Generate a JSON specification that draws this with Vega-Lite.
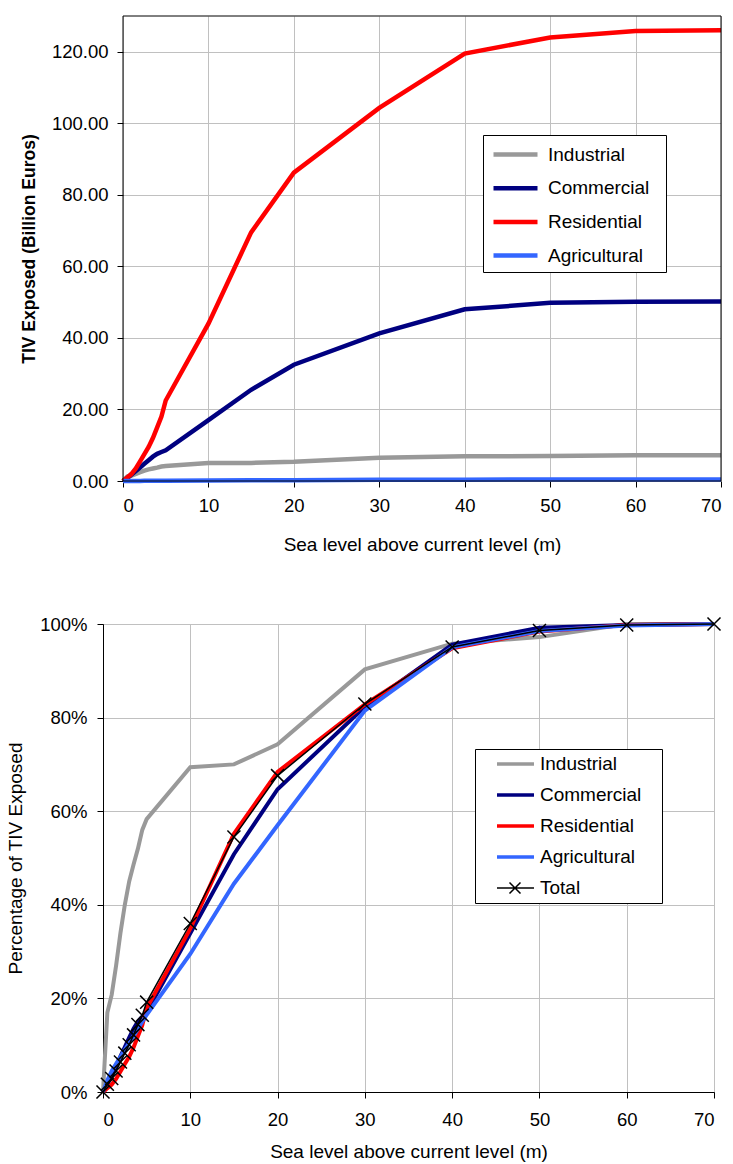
{
  "$schema": "https://vega.github.io/schema/vega-lite/v6.json",
  "padding": {"left": 6, "top": 15, "right": 5, "bottom": 5},
  "spacing": 58,
  "resolve": {"scale": {"color": "independent"}, "legend": {"color": "independent"}},
  "config": {
    "font": "Liberation Sans",
    "view": {"stroke": "#000", "strokeWidth": 1},
    "axis": {
      "labelFont": "Liberation Sans", "labelFontSize": 18.5, "labelColor": "#000",
      "titleFont": "Liberation Sans", "titleFontSize": 19, "titleColor": "#000", "titleFontWeight": "normal",
      "tickColor": "#000", "tickSize": 6, "domainColor": "#000", "gridColor": "#C0C0C0", "gridWidth": 1
    },
    "legend": {
      "labelFont": "Liberation Sans", "labelFontSize": 19, "labelColor": "#000",
      "strokeColor": "#000", "fillColor": "#fff", "orient": "none",
      "titleOrient": "right", "titleFontSize": 1, "titleOpacity": 0
    }
  },
  "datasets": {
    "tiv": [
      {"level": 0, "sector": "Industrial", "tiv": 0},
      {"level": 0.5, "sector": "Industrial", "tiv": 1.22},
      {"level": 1, "sector": "Industrial", "tiv": 1.5},
      {"level": 1.5, "sector": "Industrial", "tiv": 1.95},
      {"level": 2, "sector": "Industrial", "tiv": 2.45},
      {"level": 2.5, "sector": "Industrial", "tiv": 2.9},
      {"level": 3, "sector": "Industrial", "tiv": 3.25},
      {"level": 3.5, "sector": "Industrial", "tiv": 3.5},
      {"level": 4, "sector": "Industrial", "tiv": 3.75},
      {"level": 4.5, "sector": "Industrial", "tiv": 4.05},
      {"level": 5, "sector": "Industrial", "tiv": 4.2},
      {"level": 10, "sector": "Industrial", "tiv": 5.0},
      {"level": 15, "sector": "Industrial", "tiv": 5.05},
      {"level": 20, "sector": "Industrial", "tiv": 5.35},
      {"level": 30, "sector": "Industrial", "tiv": 6.5},
      {"level": 40, "sector": "Industrial", "tiv": 6.9},
      {"level": 50, "sector": "Industrial", "tiv": 7.0},
      {"level": 60, "sector": "Industrial", "tiv": 7.2},
      {"level": 70, "sector": "Industrial", "tiv": 7.2},
      {"level": 0, "sector": "Commercial", "tiv": 0},
      {"level": 0.5, "sector": "Commercial", "tiv": 0.8},
      {"level": 1, "sector": "Commercial", "tiv": 1.8},
      {"level": 1.5, "sector": "Commercial", "tiv": 2.8},
      {"level": 2, "sector": "Commercial", "tiv": 3.8},
      {"level": 2.5, "sector": "Commercial", "tiv": 4.8},
      {"level": 3, "sector": "Commercial", "tiv": 5.8},
      {"level": 3.5, "sector": "Commercial", "tiv": 6.8},
      {"level": 4, "sector": "Commercial", "tiv": 7.6},
      {"level": 4.5, "sector": "Commercial", "tiv": 8.1},
      {"level": 5, "sector": "Commercial", "tiv": 8.6},
      {"level": 10, "sector": "Commercial", "tiv": 17.0},
      {"level": 15, "sector": "Commercial", "tiv": 25.5},
      {"level": 20, "sector": "Commercial", "tiv": 32.5},
      {"level": 30, "sector": "Commercial", "tiv": 41.3},
      {"level": 40, "sector": "Commercial", "tiv": 48.0},
      {"level": 50, "sector": "Commercial", "tiv": 49.8},
      {"level": 60, "sector": "Commercial", "tiv": 50.1},
      {"level": 70, "sector": "Commercial", "tiv": 50.2},
      {"level": 0, "sector": "Residential", "tiv": 0},
      {"level": 0.5, "sector": "Residential", "tiv": 1.0},
      {"level": 1, "sector": "Residential", "tiv": 2.0},
      {"level": 1.5, "sector": "Residential", "tiv": 3.5},
      {"level": 2, "sector": "Residential", "tiv": 5.5},
      {"level": 2.5, "sector": "Residential", "tiv": 7.5},
      {"level": 3, "sector": "Residential", "tiv": 9.5},
      {"level": 3.5, "sector": "Residential", "tiv": 12.0},
      {"level": 4, "sector": "Residential", "tiv": 15.0},
      {"level": 4.5, "sector": "Residential", "tiv": 18.0},
      {"level": 5, "sector": "Residential", "tiv": 22.5},
      {"level": 10, "sector": "Residential", "tiv": 44.0},
      {"level": 15, "sector": "Residential", "tiv": 69.5},
      {"level": 20, "sector": "Residential", "tiv": 86.2},
      {"level": 30, "sector": "Residential", "tiv": 104.3},
      {"level": 40, "sector": "Residential", "tiv": 119.5},
      {"level": 50, "sector": "Residential", "tiv": 124.0},
      {"level": 60, "sector": "Residential", "tiv": 125.8},
      {"level": 70, "sector": "Residential", "tiv": 126.0},
      {"level": 0, "sector": "Agricultural", "tiv": 0},
      {"level": 0.5, "sector": "Agricultural", "tiv": 0.01},
      {"level": 1, "sector": "Agricultural", "tiv": 0.018},
      {"level": 1.5, "sector": "Agricultural", "tiv": 0.024},
      {"level": 2, "sector": "Agricultural", "tiv": 0.03},
      {"level": 2.5, "sector": "Agricultural", "tiv": 0.036},
      {"level": 3, "sector": "Agricultural", "tiv": 0.042},
      {"level": 3.5, "sector": "Agricultural", "tiv": 0.048},
      {"level": 4, "sector": "Agricultural", "tiv": 0.054},
      {"level": 4.5, "sector": "Agricultural", "tiv": 0.06},
      {"level": 5, "sector": "Agricultural", "tiv": 0.066},
      {"level": 10, "sector": "Agricultural", "tiv": 0.118},
      {"level": 15, "sector": "Agricultural", "tiv": 0.178},
      {"level": 20, "sector": "Agricultural", "tiv": 0.228},
      {"level": 30, "sector": "Agricultural", "tiv": 0.326},
      {"level": 40, "sector": "Agricultural", "tiv": 0.38},
      {"level": 50, "sector": "Agricultural", "tiv": 0.394},
      {"level": 60, "sector": "Agricultural", "tiv": 0.399},
      {"level": 70, "sector": "Agricultural", "tiv": 0.4}
    ],
    "share": [
      {"level": 0, "sector": "Industrial", "share": 0},
      {"level": 0.5, "sector": "Industrial", "share": 0.17},
      {"level": 1, "sector": "Industrial", "share": 0.208},
      {"level": 1.5, "sector": "Industrial", "share": 0.27},
      {"level": 2, "sector": "Industrial", "share": 0.34},
      {"level": 2.5, "sector": "Industrial", "share": 0.40},
      {"level": 3, "sector": "Industrial", "share": 0.45},
      {"level": 3.5, "sector": "Industrial", "share": 0.486},
      {"level": 4, "sector": "Industrial", "share": 0.52},
      {"level": 4.5, "sector": "Industrial", "share": 0.56},
      {"level": 5, "sector": "Industrial", "share": 0.583},
      {"level": 10, "sector": "Industrial", "share": 0.694},
      {"level": 15, "sector": "Industrial", "share": 0.70},
      {"level": 20, "sector": "Industrial", "share": 0.743},
      {"level": 30, "sector": "Industrial", "share": 0.903},
      {"level": 40, "sector": "Industrial", "share": 0.958},
      {"level": 50, "sector": "Industrial", "share": 0.972},
      {"level": 60, "sector": "Industrial", "share": 1.0},
      {"level": 70, "sector": "Industrial", "share": 1.0},
      {"level": 0, "sector": "Commercial", "share": 0},
      {"level": 0.5, "sector": "Commercial", "share": 0.016},
      {"level": 1, "sector": "Commercial", "share": 0.036},
      {"level": 1.5, "sector": "Commercial", "share": 0.056},
      {"level": 2, "sector": "Commercial", "share": 0.076},
      {"level": 2.5, "sector": "Commercial", "share": 0.096},
      {"level": 3, "sector": "Commercial", "share": 0.116},
      {"level": 3.5, "sector": "Commercial", "share": 0.135},
      {"level": 4, "sector": "Commercial", "share": 0.151},
      {"level": 4.5, "sector": "Commercial", "share": 0.161},
      {"level": 5, "sector": "Commercial", "share": 0.171},
      {"level": 10, "sector": "Commercial", "share": 0.339},
      {"level": 15, "sector": "Commercial", "share": 0.508},
      {"level": 20, "sector": "Commercial", "share": 0.647},
      {"level": 30, "sector": "Commercial", "share": 0.823},
      {"level": 40, "sector": "Commercial", "share": 0.956},
      {"level": 50, "sector": "Commercial", "share": 0.992},
      {"level": 60, "sector": "Commercial", "share": 0.998},
      {"level": 70, "sector": "Commercial", "share": 1.0},
      {"level": 0, "sector": "Residential", "share": 0},
      {"level": 0.5, "sector": "Residential", "share": 0.008},
      {"level": 1, "sector": "Residential", "share": 0.016},
      {"level": 1.5, "sector": "Residential", "share": 0.028},
      {"level": 2, "sector": "Residential", "share": 0.044},
      {"level": 2.5, "sector": "Residential", "share": 0.06},
      {"level": 3, "sector": "Residential", "share": 0.075},
      {"level": 3.5, "sector": "Residential", "share": 0.095},
      {"level": 4, "sector": "Residential", "share": 0.119},
      {"level": 4.5, "sector": "Residential", "share": 0.143},
      {"level": 5, "sector": "Residential", "share": 0.179},
      {"level": 10, "sector": "Residential", "share": 0.349},
      {"level": 15, "sector": "Residential", "share": 0.552},
      {"level": 20, "sector": "Residential", "share": 0.684},
      {"level": 30, "sector": "Residential", "share": 0.828},
      {"level": 40, "sector": "Residential", "share": 0.948},
      {"level": 50, "sector": "Residential", "share": 0.984},
      {"level": 60, "sector": "Residential", "share": 0.998},
      {"level": 70, "sector": "Residential", "share": 1.0},
      {"level": 0, "sector": "Agricultural", "share": 0},
      {"level": 0.5, "sector": "Agricultural", "share": 0.025},
      {"level": 1, "sector": "Agricultural", "share": 0.045},
      {"level": 1.5, "sector": "Agricultural", "share": 0.06},
      {"level": 2, "sector": "Agricultural", "share": 0.075},
      {"level": 2.5, "sector": "Agricultural", "share": 0.09},
      {"level": 3, "sector": "Agricultural", "share": 0.105},
      {"level": 3.5, "sector": "Agricultural", "share": 0.12},
      {"level": 4, "sector": "Agricultural", "share": 0.135},
      {"level": 4.5, "sector": "Agricultural", "share": 0.15},
      {"level": 5, "sector": "Agricultural", "share": 0.165},
      {"level": 10, "sector": "Agricultural", "share": 0.295},
      {"level": 15, "sector": "Agricultural", "share": 0.445},
      {"level": 20, "sector": "Agricultural", "share": 0.57},
      {"level": 30, "sector": "Agricultural", "share": 0.815},
      {"level": 40, "sector": "Agricultural", "share": 0.95},
      {"level": 50, "sector": "Agricultural", "share": 0.985},
      {"level": 60, "sector": "Agricultural", "share": 0.997},
      {"level": 70, "sector": "Agricultural", "share": 1.0},
      {"level": 0, "sector": "Total", "share": 0},
      {"level": 0.5, "sector": "Total", "share": 0.0165},
      {"level": 1, "sector": "Total", "share": 0.029},
      {"level": 1.5, "sector": "Total", "share": 0.045},
      {"level": 2, "sector": "Total", "share": 0.064},
      {"level": 2.5, "sector": "Total", "share": 0.083},
      {"level": 3, "sector": "Total", "share": 0.101},
      {"level": 3.5, "sector": "Total", "share": 0.122},
      {"level": 4, "sector": "Total", "share": 0.144},
      {"level": 4.5, "sector": "Total", "share": 0.164},
      {"level": 5, "sector": "Total", "share": 0.192},
      {"level": 10, "sector": "Total", "share": 0.36},
      {"level": 15, "sector": "Total", "share": 0.545},
      {"level": 20, "sector": "Total", "share": 0.676},
      {"level": 30, "sector": "Total", "share": 0.829},
      {"level": 40, "sector": "Total", "share": 0.951},
      {"level": 50, "sector": "Total", "share": 0.986},
      {"level": 60, "sector": "Total", "share": 0.998},
      {"level": 70, "sector": "Total", "share": 1.0}
    ]
  },
  "vconcat": [
    {
      "width": 618,
      "height": 465,
      "view": {"stroke": null},
      "layer": [
        {
          "data": {"name": "tiv"},
          "mark": {"type": "line", "strokeWidth": 4.5, "clip": false},
          "encoding": {
            "x": {
              "field": "level", "type": "quantitative",
              "scale": {"domain": [0, 70], "range": [20, 618], "nice": false, "zero": false},
              "axis": {"values": [0, 10, 20, 30, 40, 50, 60, 70], "title": "Sea level above current level (m)", "grid": true, "domain": false, "labelPadding": 9, "titlePadding": 21}
            },
            "y": {
              "field": "tiv", "type": "quantitative",
              "scale": {"domain": [0, 130], "nice": false},
              "axis": {"values": [0, 20, 40, 60, 80, 100, 120], "format": ".2f", "title": "TIV Exposed (Billion Euros)", "titleFontWeight": "bold", "titleFontSize": 17.5, "offset": -20, "grid": true, "domain": false, "labelPadding": 9, "titlePadding": 13}
            },
            "color": {
              "field": "sector", "type": "nominal",
              "scale": {"domain": ["Industrial", "Commercial", "Residential", "Agricultural"], "range": ["#999999", "#000080", "#FF0000", "#3366FF"]},
              "legend": {
                "title": "\u00a0", "titlePadding": 11,
                "legendX": 380, "legendY": 119, "padding": 6, "rowPadding": 9.7,
                "symbolType": "M-0.818,0L3.182,0", "symbolSize": 484, "symbolStrokeWidth": 4.5, "labelOffset": 32
              }
            }
          }
        },
        {
          "data": {"values": [{}]},
          "mark": {"type": "rule", "color": "#000", "strokeWidth": 1},
          "encoding": {"x": {"datum": 0, "type": "quantitative"}, "y": {"datum": 0, "type": "quantitative"}, "y2": {"datum": 130}}
        },
        {
          "data": {"values": [{}]},
          "mark": {"type": "rule", "color": "#000", "strokeWidth": 1},
          "encoding": {"x": {"datum": 70, "type": "quantitative"}, "y": {"datum": 0, "type": "quantitative"}, "y2": {"datum": 130}}
        },
        {
          "data": {"values": [{}]},
          "mark": {"type": "rule", "color": "#000", "strokeWidth": 1},
          "encoding": {"x": {"datum": 0, "type": "quantitative"}, "x2": {"datum": 70}, "y": {"datum": 130, "type": "quantitative"}}
        },
        {
          "data": {"values": [{}]},
          "mark": {"type": "rule", "color": "#000", "strokeWidth": 1},
          "encoding": {"x": {"datum": 0, "type": "quantitative"}, "x2": {"datum": 70}, "y": {"datum": 0, "type": "quantitative"}}
        }
      ]
    },
    {
      "width": 611,
      "height": 468,
      "data": {"name": "share"},
      "encoding": {
        "x": {
          "field": "level", "type": "quantitative",
          "scale": {"domain": [0, 70], "nice": false, "zero": false},
          "axis": {"values": [0, 10, 20, 30, 40, 50, 60, 70], "title": "Sea level above current level (m)", "grid": true, "labelPadding": 12, "titlePadding": 14}
        },
        "y": {
          "field": "share", "type": "quantitative",
          "scale": {"domain": [0, 1], "nice": false},
          "axis": {"values": [0, 0.2, 0.4, 0.6, 0.8, 1], "format": ".0%", "title": "Percentage of TIV Exposed", "grid": true, "labelPadding": 10, "titlePadding": 14}
        }
      },
      "layer": [
        {
          "transform": [{"filter": "datum.sector !== 'Total'"}],
          "mark": {"type": "line", "strokeWidth": 4, "clip": false},
          "encoding": {
            "color": {
              "field": "sector", "type": "nominal",
              "scale": {"domain": ["Industrial", "Commercial", "Residential", "Agricultural", "Total"], "range": ["#999999", "#000080", "#FF0000", "#3366FF", "#000000"]},
              "legend": {
                "title": "\u00a0", "titlePadding": 16,
                "legendX": 372, "legendY": 125, "padding": 5, "rowPadding": 11,
                "symbolType": "M0.757,-0.12L4.757,-0.12M0.757,0L4.757,0M0.757,0.12L4.757,0.12", "symbolSize": 342, "symbolStrokeWidth": 1.5, "labelOffset": 40,
                "encode": {
                  "symbols": {
                    "update": {
                      "shape": {"signal": "datum.value === 'Total' ? 'M0.757,0L4.757,0M2.108,-0.595L3.298,0.595M2.108,0.595L3.298,-0.595' : 'M0.757,-0.12L4.757,-0.12M0.757,0L4.757,0M0.757,0.12L4.757,0.12'"}
                    }
                  }
                }
              }
            }
          }
        },
        {
          "transform": [{"filter": "datum.sector === 'Total'"}],
          "mark": {"type": "line", "strokeWidth": 1.5, "clip": false},
          "encoding": {"color": {"field": "sector", "type": "nominal"}}
        },
        {
          "transform": [{"filter": "datum.sector === 'Total'"}],
          "mark": {"type": "point", "shape": "M-1,-1L1,1M-1,1L1,-1", "filled": false, "stroke": "#000", "strokeWidth": 1.5, "size": 170, "opacity": 1, "clip": false}
        }
      ]
    }
  ]
}
